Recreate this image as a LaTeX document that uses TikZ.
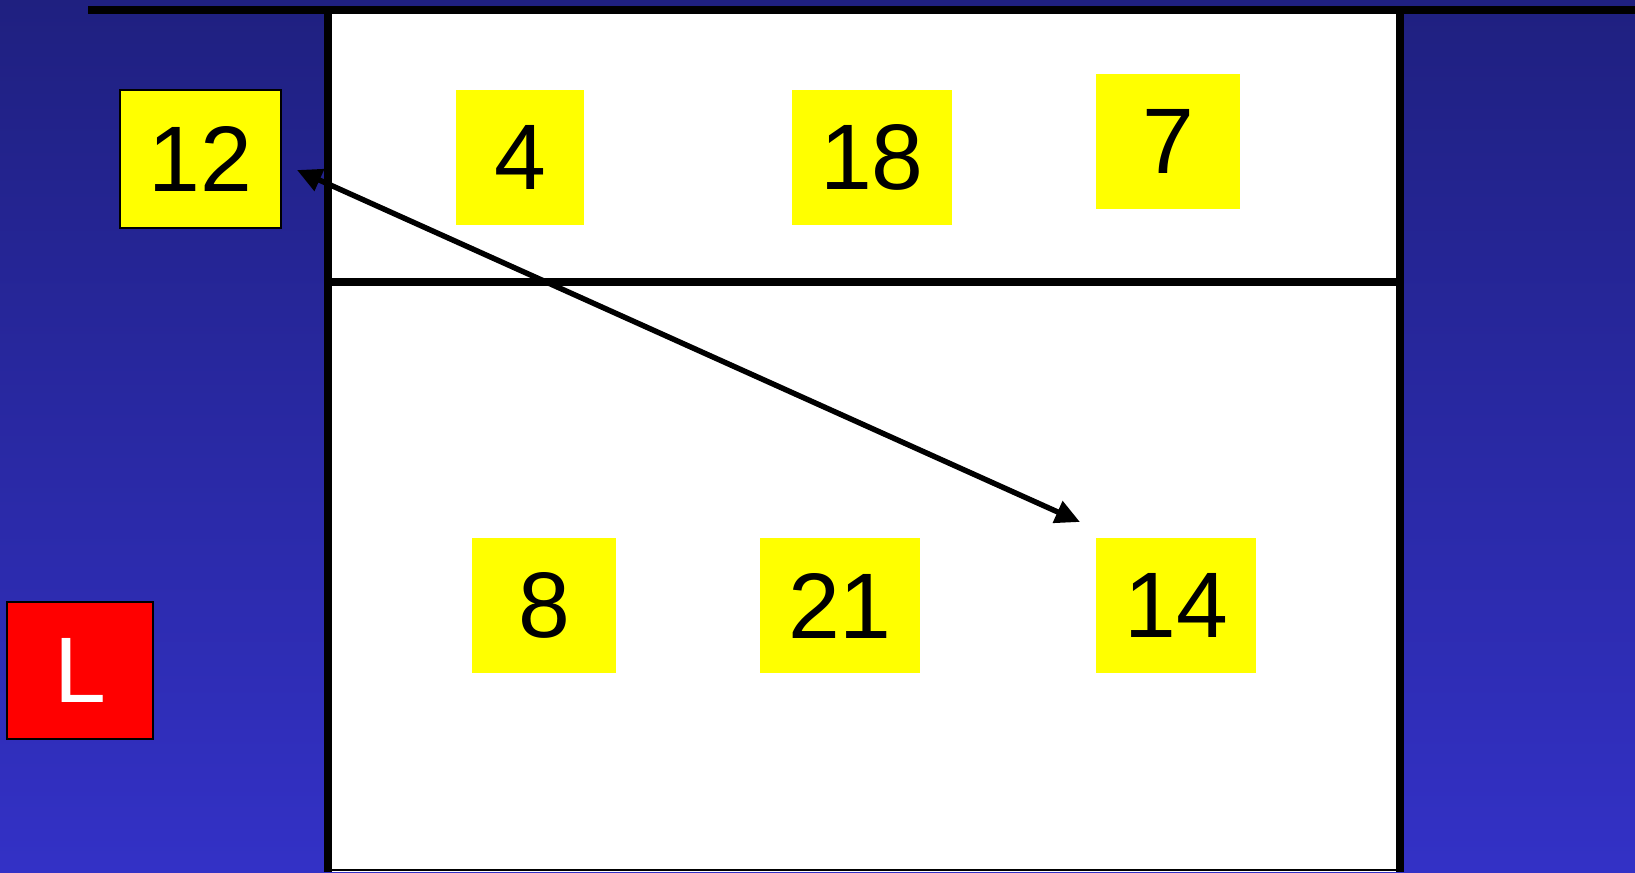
\documentclass[tikz,border=0pt]{standalone}
\usepackage{fontspec}
\setmainfont{Liberation Sans}
\usetikzlibrary{arrows.meta}

\definecolor{navytop}{RGB}{31,32,128}
\definecolor{navybot}{RGB}{51,49,198}
\definecolor{cardyellow}{RGB}{255,255,0}
\definecolor{cardred}{RGB}{255,0,0}

\begin{document}
\begin{tikzpicture}[x=0.02cm, y=-0.02cm,
		card/.style={fill=cardyellow, minimum height=2.7cm, inner sep=0pt, font=\fontsize{53}{58}\selectfont},
		wall/.style={line width=4.6pt},
		swapline/.style={<->, >={Triangle[length=14pt, width=13pt]}, line width=3.1pt}]
		
		\useasboundingbox (0,0) rectangle (1635,872);
		\shade[top color=navytop, bottom color=navybot] (0,0) rectangle (1635,872);
		
		% the table
		\fill[white] (328,10) rectangle (1400,872);
		\draw[line width=0.6pt] (328,870) -- (1400,870);
		\draw[wall] (328,872) -- (328,10) -- (1400,10) -- (1400,872);
		\draw[line width=4pt] (88,10) -- (1635,10);
		\draw[line width=4pt] (328,282) -- (1400,282);
		
		\node[card, draw=black, line width=0.8pt, minimum width=3.22cm, minimum height=2.76cm] (n12) at (200.5,159) {12};
		
		\node[card, minimum width=2.56cm] (n4) at (520,157.5) {4};
		\node[card, minimum width=3.2cm] (n18) at (872,157.5) {18};
		\node[card, minimum width=2.88cm] (n7) at (1168,141.5) {7};
		
		\node[card, minimum width=2.88cm] (n8) at (544,605.5) {8};
		\node[card, minimum width=3.2cm] (n21) at (840,605.5) {21};
		\node[card, minimum width=3.2cm] (n14) at (1176,605.5) {14};
		
		\node[card, fill=cardred, text=white, draw=black, line width=1.1pt, minimum width=2.92cm, minimum height=2.74cm] (lbl) at (80,670.5) {L};
		
		\coordinate (from12) at (297,170);
		\coordinate (to14) at (1080,522);
		\draw[swapline] (from12) -- (to14);
		
\end{tikzpicture}
\end{document}
